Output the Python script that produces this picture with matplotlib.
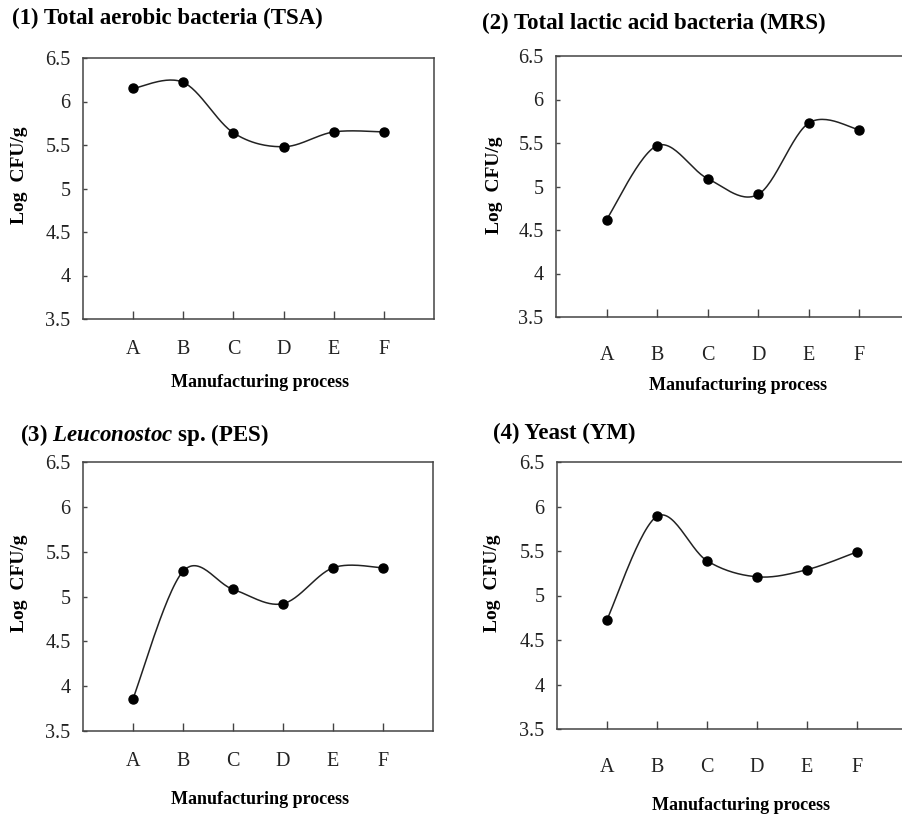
import numpy as np
import matplotlib.pyplot as plt

plt.rcParams['font.family'] = ['Liberation Serif', 'DejaVu Serif']
plt.rcParams['mathtext.fontset'] = 'custom'
plt.rcParams['mathtext.rm'] = 'Liberation Serif'
plt.rcParams['mathtext.bf'] = 'Liberation Serif:bold'
plt.rcParams['mathtext.bfit'] = 'Liberation Serif:bold:italic'

# donnees
steps = ['A', 'B', 'C', 'D', 'E', 'F']
tsa = [6.15, 6.22, 5.64, 5.48, 5.65, 5.65]
mrs = [4.62, 5.47, 5.09, 4.91, 5.73, 5.65]
pes = [3.86, 5.28, 5.08, 4.92, 5.32, 5.32]
ym = [4.73, 5.89, 5.39, 5.21, 5.29, 5.49]
yticks = [3.5, 4, 4.5, 5, 5.5, 6, 6.5]
ytick_labels = ['3.5', '4', '4.5', '5', '5.5', '6', '6.5']

W, H = 902, 817


def smooth(x, y, n=30):
    # courbe lissee type Excel (Bezier / Catmull-Rom)
    x = np.asarray(x, float)
    y = np.asarray(y, float)
    P = np.column_stack([x, y])
    out = []
    for i in range(len(P) - 1):
        p0 = P[i - 1] if i > 0 else P[i]
        p1 = P[i]
        p2 = P[i + 1]
        p3 = P[i + 2] if i + 2 < len(P) else P[i + 1]
        c1 = p1 + (p2 - p0) / 6
        c2 = p2 - (p3 - p1) / 6
        t = np.linspace(0, 1, n)[:, None]
        seg = (1 - t) ** 3 * p1 + 3 * (1 - t) ** 2 * t * c1 + 3 * (1 - t) * t ** 2 * c2 + t ** 3 * p2
        out.append(seg)
    out = np.vstack(out)
    return out[:, 0], out[:, 1]


def panel(fig, box, values, title, title_xy, xlab_xy, ylab_xy, xpad):
    left, top, width, bottom = box
    ax = fig.add_axes([left / W, 1 - bottom / H, width / W, (bottom - top) / H])
    x = np.arange(1, len(steps) + 1)
    sx, sy = smooth(x, values)
    ax.plot(sx, sy, color='#222222', lw=1.1, clip_on=False)
    ax.plot(x, values, 'o', color='black', ms=6.5, clip_on=False)
    ax.set_xlim(0, 7)
    ax.set_ylim(3.5, 6.5)
    ax.set_xticks(x)
    ax.set_xticklabels(steps)
    ax.set_yticks(yticks)
    ax.set_yticklabels(ytick_labels)
    ax.tick_params(axis='x', direction='in', length=6, width=1, pad=xpad, labelsize=14.5,
                   color='#444444', labelcolor='#222222')
    ax.tick_params(axis='y', direction='in', length=3, width=1, pad=9, labelsize=14.5,
                   color='#444444', labelcolor='#222222')
    for s in ax.spines.values():
        s.set_color('#444444')
        s.set_linewidth(1.1)
    fig.text(title_xy[0] / W, 1 - title_xy[1] / H, title, fontsize=16.5, fontweight='bold',
             ha='left', va='center')
    fig.text(xlab_xy[0] / W, 1 - xlab_xy[1] / H, 'Manufacturing process', fontsize=13,
             fontweight='bold', ha='center', va='center')
    fig.text(ylab_xy[0] / W, 1 - ylab_xy[1] / H, 'Log  CFU/g', fontsize=14,
             fontweight='bold', ha='center', va='center', rotation=90)
    return ax


fig = plt.figure(figsize=(W / 100, H / 100), dpi=100)

panel(fig, (83, 58, 351, 319), tsa, '(1) Total aerobic bacteria (TSA)', (12, 18), (260, 382), (20, 175), 15)
panel(fig, (556, 56, 354, 317), mrs, '(2) Total lactic acid bacteria (MRS)', (482, 23), (738, 385), (494, 185), 21)
panel(fig, (83, 462, 350, 731), pes, '(3) $\\mathbfit{Leuconostoc}$ sp. (PES)', (20, 435), (260, 800), (20, 583), 15)
panel(fig, (557, 462, 350, 729), ym, '(4) Yeast (YM)', (493, 433), (741, 805), (493, 583), 21)

fig.savefig('out.png', dpi=100)
